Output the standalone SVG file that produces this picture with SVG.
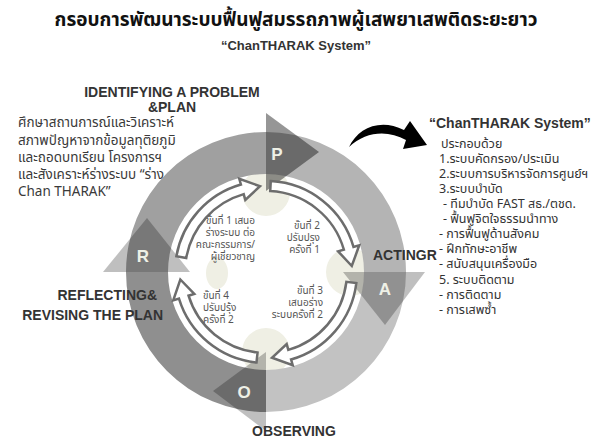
<svg xmlns="http://www.w3.org/2000/svg" width="591" height="438" viewBox="0 0 591 438">
<style>
.th{font-family:"Noto Sans Thai","Noto Sans","DejaVu Sans",sans-serif}
.en{font-family:"Liberation Sans",Arial,sans-serif}
.hd{font-family:"Liberation Sans",Arial,sans-serif;font-weight:bold;font-size:14px;fill:#333}
.par{font-size:13.5px;fill:#3a3a3a}
.lst{font-size:12.5px;fill:#333}
.stp{font-size:10px;fill:#555}
.let{font-family:"Liberation Sans",Arial,sans-serif;font-weight:bold;font-size:17px;fill:#eef0e6;text-anchor:middle}
.iarr{fill:#fff;stroke:#6d6d6d;stroke-width:2.5;stroke-linejoin:miter}
.beige{fill:#efefe4}
</style>
<rect width="591" height="438" fill="#fff"/>
<g id="title">
<text class="th" x="296" y="26" text-anchor="middle" font-size="19" font-weight="bold" fill="#111">กรอบการพัฒนาระบบฟื้นฟูสมรรถภาพผู้เสพยาเสพติดระยะยาว</text>
<text class="en" x="296" y="50" text-anchor="middle" font-size="13" font-weight="bold" fill="#333">“ChanTHARAK System”</text>
</g>
<g id="cycle">
<circle class="beige" cx="266" cy="192" r="24"/>
<circle class="beige" cx="350" cy="272" r="24"/>
<circle class="beige" cx="266" cy="352" r="24"/>
<ellipse class="beige" cx="217" cy="273" rx="11" ry="16"/>
<path d="M126,272 A140,140 0 0 1 266,132 L266,174 A98,98 0 0 0 168,272 Z" fill="#a0a0a0"/>
<path d="M266,132 A140,140 0 0 1 406,272 L364,272 A98,98 0 0 0 266,174 Z" fill="#b4b4b4"/>
<path d="M406,272 A140,140 0 0 1 266,412 L266,370 A98,98 0 0 0 364,272 Z" fill="#c2c2c2"/>
<path d="M266,412 A140,140 0 0 1 126,272 L168,272 A98,98 0 0 0 266,370 Z" fill="#8f8f8f"/>
<polygon points="266,113 319,152 266,191" fill="#000" fill-opacity="0.41"/>
<polygon points="343,272 425,272 385,325" fill="#000" fill-opacity="0.25"/>
<polygon points="266,352 266,431 213,391" fill="#000" fill-opacity="0.25"/>
<polygon points="103,272 190,272 147,218" fill="#000" fill-opacity="0.25"/>
</g>
<g id="connectors">
<path class="iarr" d="M176.38,256.20 A91,91 0 0 1 240.92,184.52 L239.27,178.75 L260.00,186.21 L245.33,199.90 L243.68,194.13 A81,81 0 0 0 186.23,257.94 Z"/>
<path class="iarr" d="M270.76,181.12 A91,91 0 0 1 353.48,246.92 L359.25,245.27 L351.79,266.00 L338.10,251.33 L343.87,249.68 A81,81 0 0 0 270.24,191.11 Z"/>
<path class="iarr" d="M356.32,283.09 A91,91 0 0 1 291.08,359.48 L292.73,365.25 L272.00,357.79 L286.67,344.10 L288.32,349.87 A81,81 0 0 0 346.39,281.87 Z"/>
<path class="iarr" d="M256.49,362.50 A91,91 0 0 1 178.98,298.61 L173.24,300.36 L180.33,279.50 L194.28,293.93 L188.54,295.68 A81,81 0 0 0 257.54,352.55 Z"/>
<path d="M349,147 C358,128 380,118 404,130 L410,121 L427,145 L403,149 L406,140 C388,130 366,131 349,147 Z" fill="#000"/>
</g>
<g id="node-P"><text class="let" x="277" y="160">P</text></g>
<g id="node-A"><text class="let" x="385" y="295">A</text></g>
<g id="node-O"><text class="let" x="244" y="398">O</text></g>
<g id="node-R"><text class="let" x="143" y="262">R</text></g>
<g id="step1" class="th stp" text-anchor="end">
<text x="255" y="224">ขั้นที่ 1 เสนอ</text>
<text x="255" y="236">ร่างระบบ ต่อ</text>
<text x="255" y="248">คณะกรรมการ/</text>
<text x="255" y="260">ผู้เชี่ยวชาญ</text>
</g>
<g id="step2" class="th stp" text-anchor="end">
<text x="320" y="229">ขั้นที่ 2</text>
<text x="320" y="241">ปรับปรุง</text>
<text x="320" y="253">ครั้งที่ 1</text>
</g>
<g id="step3" class="th stp" text-anchor="end">
<text x="323" y="294">ขั้นที่ 3</text>
<text x="323" y="306">เสนอร่าง</text>
<text x="323" y="318">ระบบครั้งที่ 2</text>
</g>
<g id="step4" class="th stp">
<text x="203" y="299">ขั้นที่ 4</text>
<text x="203" y="311">ปรับปรุ้ง</text>
<text x="203" y="323">ครั้งที่ 2</text>
</g>
<g id="plan">
<text class="hd" x="172" y="97" text-anchor="middle">IDENTIFYING A PROBLEM</text>
<text class="hd" x="172" y="112" text-anchor="middle">&amp;PLAN</text>
<g class="th par">
<text x="18" y="127">ศึกษาสถานการณ์และวิเคราะห์</text>
<text x="18" y="145">สภาพปัญหาจากข้อมูลทุติยภูมิ</text>
<text x="18" y="162">และถอดบทเรียน โครงการฯ</text>
<text x="18" y="179">และสังเคราะห์ร่างระบบ  “ร่าง</text>
<text x="18" y="196">Chan THARAK”</text>
</g>
</g>
<g id="acting"><text class="hd" x="373" y="260">ACTINGR</text></g>
<g id="observing"><text class="hd" x="294" y="436" text-anchor="middle">OBSERVING</text></g>
<g id="reflecting">
<text class="hd" x="157" y="300" text-anchor="end">REFLECTING&amp;</text>
<text class="hd" x="163" y="320" text-anchor="end">REVISING THE  PLAN</text>
</g>
<g id="system">
<text class="hd" x="429" y="128" font-size="13.5">“ChanTHARAK System”</text>
<g class="th lst">
<text x="441" y="148">ประกอบด้วย</text>
<text x="439" y="163">1.ระบบคัดกรอง/ประเมิน</text>
<text x="439" y="178">2.ระบบการบริหารจัดการศูนย์ฯ</text>
<text x="439" y="193">3.ระบบบำบัด</text>
<text x="443" y="208">- ทีมบำบัด FAST สธ./ตชด.</text>
<text x="443" y="223">- ฟื้นฟูจิตใจธรรมนำทาง</text>
<text x="439" y="238">- การฟื้นฟูด้านสังคม</text>
<text x="439" y="253">- ฝึกทักษะอาชีพ</text>
<text x="439" y="268">- สนับสนุนเครื่องมือ</text>
<text x="439" y="284">5. ระบบติดตาม</text>
<text x="439" y="299">- การติดตาม</text>
<text x="439" y="314">- การเสพซ้ำ</text>
</g>
</g>
</svg>
